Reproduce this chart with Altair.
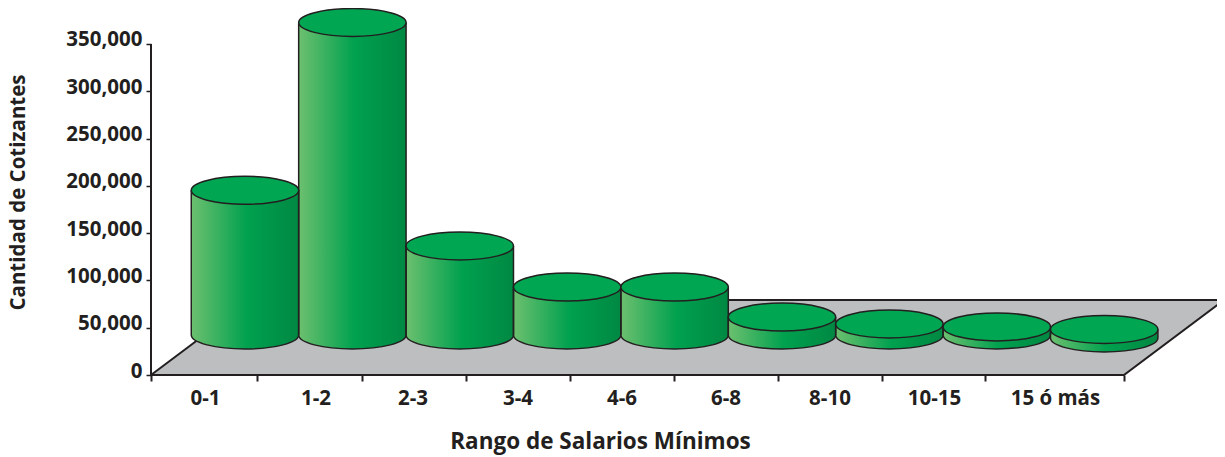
import altair as alt
import pandas as pd

categories = ["0-1", "1-2", "2-3", "3-4", "4-6", "6-8", "8-10", "10-15", "15 ó más"]
values = [153000, 330400, 94100, 50700, 50700, 19000, 11600, 8500, 9000]
bases = [42300, 42300, 42300, 42300, 42300, 42300, 42300, 42300, 39100]
slots = [0, 1, 2, 3, 4, 5, 6, 7, 8]
label_slots = [-0.368, 0.661, 1.564, 2.542, 3.510, 4.479, 5.447, 6.420, 7.546]
tick_slots = [-0.875, 0.112, 1.085, 2.058, 3.026, 3.994, 4.963, 5.931, 6.890, 8.184]
y_ticks = [0, 50000, 100000, 150000, 200000, 250000, 300000, 350000]
floor_x = [-0.875, 0.056, 8.184, 9.1155]
floor_top = [0, 79300, 79300, 79300]
floor_bottom = [0, 0, 0, 79300]
outline_x = [-0.875, 0.056, 9.1155, 8.184, -0.875]
outline_y = [0, 79300, 79300, 0, 0]

INK = "#231F20"
FONT = "Open Sans"
df = pd.DataFrame({"cat": categories, "v": values, "base": bases, "s": slots, "ls": label_slots})
df["top"] = df.v + df.base
df["l"] = df.s - 0.5
df["r"] = df.s + 0.5

xs = alt.Scale(domain=[-0.875, 9.0503], nice=False, zero=False)
ys = alt.Scale(domain=[0, 388060], nice=False)
x_axis = alt.Axis(
    values=tick_slots, labels=False, domain=False, grid=False, tickSize=6, tickWidth=2, tickColor=INK,
    title="Rango de Salarios Mínimos", titleFont=FONT, titleFontSize=22.5, titleFontWeight="bold",
    titleColor=INK, titleX=449, titleY=66, titleBaseline="middle", titleAlign="center",
)
y_axis = alt.Axis(
    values=y_ticks, format=",d", domain=False, grid=False, tickSize=5, tickWidth=1.5, tickColor=INK,
    labelFont=FONT, labelFontSize=20.5, labelFontWeight="bold", labelColor=INK, labelPadding=4,
    labelOffset=-4, labelOverlap=False,
    title="Cantidad de Cotizantes", titleFont=FONT, titleFontSize=20.5, titleFontWeight="bold",
    titleColor=INK, titleX=-133, titleY=184, titleBaseline="middle", titleAlign="center", titleAngle=-90,
)
X = lambda f: alt.X(f, type="quantitative", scale=xs, axis=x_axis)
Y = lambda f: alt.Y(f, type="quantitative", scale=ys, axis=y_axis)

grad = alt.Gradient(
    gradient="linear", x1=0, x2=1, y1=0, y2=0,
    stops=[
        alt.GradientStop(offset=0, color="#6CC06F"),
        alt.GradientStop(offset=0.52, color="#00A14F"),
        alt.GradientStop(offset=1, color="#008842"),
    ],
)

floor = alt.Chart(pd.DataFrame({"x": floor_x, "a": floor_top, "b": floor_bottom})).mark_area(
    color="#BCBEC0", opacity=1
).encode(x=X("x"), y=Y("a"), y2=alt.Y2("b"))

outline = alt.Chart(pd.DataFrame({"x": outline_x, "y": outline_y, "o": range(5)})).mark_line(
    color=INK, strokeWidth=2, strokeJoin="miter"
).encode(x=X("x"), y=Y("y"), order="o:Q")

y_line = alt.Chart(pd.DataFrame({"x": [-0.875], "a": [0], "b": [350000]})).mark_rule(
    color=INK, strokeWidth=2
).encode(x=X("x"), y=Y("a"), y2="b")

base_chart = alt.Chart(df)
size = 107.4 ** 2

bottoms = base_chart.mark_point(
    filled=True, opacity=1, fill=grad, stroke=INK, strokeWidth=1.5, size=size,
    shape="M-1,0 A1,0.26 0 0 0 1,0",
).encode(x=X("s"), y=Y("base"))

bodies = base_chart.mark_bar(color=grad, opacity=1).encode(
    x=X("l"), x2="r", y=Y("top"), y2="base"
)

left_side = base_chart.mark_rule(color=INK, strokeWidth=1.5).encode(
    x=X("l"), y=Y("top"), y2="base"
)
right_side = base_chart.mark_rule(color=INK, strokeWidth=1.5).encode(
    x=X("r"), y=Y("top"), y2="base"
)

tops = base_chart.mark_point(
    filled=True, opacity=1, fill="#00A651", stroke=INK, strokeWidth=1.5, size=size,
    shape="M-1,0 A1,0.26 0 1 0 1,0 A1,0.26 0 1 0 -1,0 Z",
).encode(x=X("s"), y=Y("top"))

labels = base_chart.mark_text(
    font=FONT, fontSize=20.5, fontWeight="bold", color=INK, baseline="middle", align="center"
).encode(x=X("ls"), y=alt.value(390.5), text="cat:N")

chart = alt.layer(
    floor, outline, y_line, bottoms, bodies, left_side, right_side, tops, labels
).properties(
    width=1066, height=367,
    autosize=alt.AutoSizeParams(type="none"),
    padding={"left": 143, "top": 0, "right": 0, "bottom": 82},
).configure_view(stroke=None)

chart.save("out.html", embed_options={"renderer": "svg", "actions": False})
